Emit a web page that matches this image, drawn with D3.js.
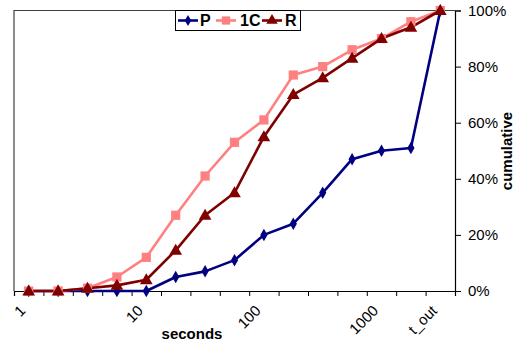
<!DOCTYPE html>
<html><head><meta charset="utf-8">
<script src="https://cdn.jsdelivr.net/npm/d3@7"></script>
<style>body{margin:0;background:#fff}svg{display:block}text{font-family:"Liberation Sans",Arial,sans-serif}</style>
</head><body>
<svg id="c" width="518" height="343"></svg>
<script>
const categories = ["1","","","","10","","","","100","","","","1000","","t_out"];
const seriesNames = ["P","1C","R"];
const valuesP  = [0,0,0,0,0,5,7,11,20,24,35,47,50,51,100];
const values1C = [0,0,1,5,12,27,41,53,61,77,80,86,90,96,100];
const valuesR  = [0,0,1,2,4,14.5,27,35,55,70,76,83,90,94,100];
const yTicks = [0,20,40,60,80,100];
const colors = {"P":"#000080","1C":"#FF8080","R":"#800000"};

const svg = d3.select("#c");
const L=14, R=455, T=10.5, B=291;
const idx = d3.range(categories.length);
const x = d3.scaleBand().domain(idx).range([L,R]).padding(0);
const xb = d3.scaleLinear().domain([0,categories.length]).range([L,R]);
const y = d3.scaleLinear().domain([0,100]).range([B,T]);

// plot border (left & top)
svg.append("path").attr("d",`M${L},${B}V${T}H${R}`).attr("fill","none").attr("stroke","#404040").attr("stroke-width",1.2);

// bottom axis ticks at category boundaries
const gx = svg.append("g").attr("transform",`translate(0,${B})`)
  .call(d3.axisBottom(xb).tickValues(d3.range(categories.length+1)).tickSize(5).tickFormat(""));
gx.select(".domain").attr("stroke","#000").attr("stroke-width",1.2);
gx.selectAll(".tick line").attr("stroke","#000").attr("stroke-width",1);

// category labels
svg.append("g").selectAll("text").data(idx.filter(i=>categories[i]!=="")).join("text")
  .attr("transform",i=>`translate(${x(i)+x.bandwidth()/2-6},${B+17}) rotate(-45)`)
  .attr("text-anchor","end").attr("dy","0.35em").attr("font-size",15).attr("fill","#000")
  .text(i=>categories[i]);

// right axis
const gy = svg.append("g").attr("transform",`translate(${R},0)`)
  .call(d3.axisRight(y).tickValues(yTicks).tickSize(6).tickPadding(7).tickFormat(d=>d+"%"));
gy.select(".domain").attr("stroke","#000").attr("stroke-width",1.2);
gy.selectAll(".tick line").attr("stroke","#000");
gy.selectAll(".tick text").attr("font-size",15).attr("fill","#000").attr("font-family","Liberation Sans, Arial, sans-serif");

svg.append("text").attr("x",192).attr("y",339).attr("text-anchor","middle").attr("font-size",15).attr("font-weight","bold").text("seconds");
svg.append("text").attr("transform","translate(512,151) rotate(-90)").attr("text-anchor","middle").attr("font-size",15).attr("font-weight","bold").text("cumulative");

const series = [["P",valuesP],["1C",values1C],["R",valuesR]];
const cx = i=>x(i)+x.bandwidth()/2;
const line = d3.line().x((d,i)=>cx(i)).y(d=>y(d));
const sym = {"P":d3.symbolDiamond,"1C":d3.symbolSquare,"R":d3.symbolTriangle};
const symSize = {"P":45,"1C":85,"R":70};
series.forEach(([n,v])=>{
  svg.append("path").datum(v).attr("d",line).attr("fill","none").attr("stroke",colors[n]).attr("stroke-width",2.6).attr("stroke-linejoin","round");
});
series.forEach(([n,v])=>{
  svg.append("g").selectAll("path").data(v).join("path")
    .attr("transform",(d,i)=>`translate(${cx(i)},${y(d)+(n==="R"?0.8:0)})`)
    .attr("d",d3.symbol().type(sym[n]).size(symSize[n])).attr("fill",colors[n]);
});

// legend
const lg = svg.append("g");
lg.append("rect").attr("x",175.5).attr("y",10.5).attr("width",125).attr("height",20).attr("fill","#fff").attr("stroke","#000").attr("stroke-width",1);
const lpos = [[178,"P",200],[216,"1C",240],[262,"R",285]];
lpos.forEach(([lx,n,tx])=>{
  lg.append("line").attr("x1",lx).attr("x2",lx+20).attr("y1",20.5).attr("y2",20.5).attr("stroke",colors[n]).attr("stroke-width",2.6);
  lg.append("path").attr("transform",`translate(${lx+10},20.5)`).attr("d",d3.symbol().type(sym[n]).size(symSize[n]*0.8)).attr("fill",colors[n]);
  lg.append("text").attr("x",tx).attr("y",26).attr("font-size",16).attr("font-weight","bold").text(n);
});
</script>
</body></html>
